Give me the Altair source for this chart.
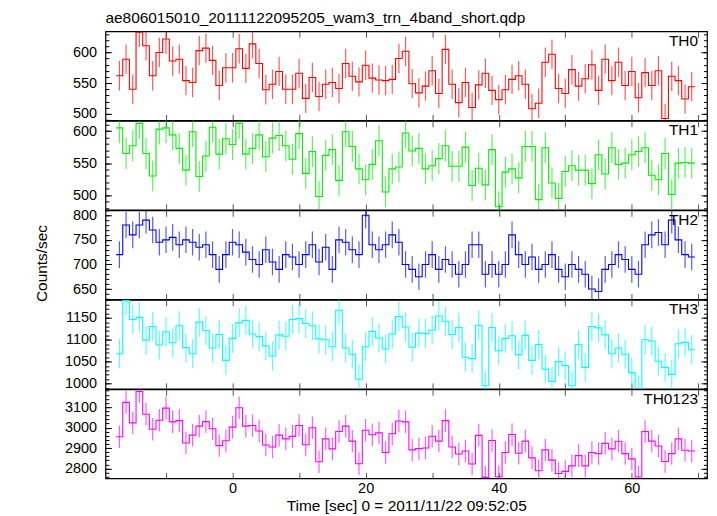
import altair as alt
import pandas as pd

plot_title = "ae806015010_20111122095205_wam3_trn_4band_short.qdp"
x_title = "Time [sec] 0 = 2011/11/22 09:52:05"
y_title = "Counts/sec"
names = ["TH0", "TH1", "TH2", "TH3", "TH0123"]
colors = ["#ff0000", "#00ee00", "#0000ff", "#00ffff", "#ff00ff"]

t_start = -17.5   # first bin start [sec]
bin_width = 1.0

th0 = [562, 589, 540, 633, 611, 562, 600, 622, 586, 589, 554, 551, 603, 607, 587, 546, 575, 575, 606, 574,
       614, 582, 539, 548, 569, 540, 540, 566, 525, 559, 528, 548, 551, 541, 582, 561, 552, 579, 558, 555,
       554, 556, 590, 602, 549, 534, 545, 570, 533, 605, 548, 518, 551, 510, 547, 566, 538, 523, 539, 556,
       562, 548, 508, 517, 584, 597, 541, 533, 572, 545, 557, 580, 538, 589, 554, 584, 546, 569, 526, 567,
       546, 570, 492, 561, 554, 524, 544]
th1 = [605, 565, 577, 612, 565, 530, 603, 605, 594, 573, 539, 599, 529, 561, 606, 564, 588, 579, 612, 564,
       573, 594, 560, 589, 593, 577, 556, 596, 534, 568, 498, 562, 571, 523, 599, 576, 541, 524, 548, 585,
       505, 541, 544, 597, 569, 573, 541, 546, 557, 577, 545, 545, 575, 515, 542, 516, 571, 482, 536, 541,
       527, 576, 576, 493, 574, 519, 495, 537, 546, 539, 539, 518, 563, 533, 574, 548, 550, 563, 568, 574,
       531, 524, 565, 501, 550, 551, 550]
th2 = [720, 780, 760, 780, 790, 770, 745, 750, 755, 740, 750, 745, 735, 740, 720, 690, 720, 745, 740, 725,
       710, 700, 730, 705, 690, 720, 715, 700, 720, 740, 705, 735, 690, 750, 745, 730, 720, 800, 740, 730,
       740, 760, 745, 700, 690, 675, 700, 720, 690, 710, 700, 680, 700, 740, 740, 680, 700, 680, 700, 760,
       720, 700, 715, 690, 700, 720, 690, 675, 700, 690, 680, 650, 645, 690, 700, 720, 710, 690, 680, 740,
       760, 765, 740, 790, 750, 720, 715]
th3 = [1068, 1189, 1146, 1151, 1099, 1130, 1088, 1118, 1093, 1132, 1082, 1068, 1140, 1121, 1081, 1112, 1053,
       1103, 1139, 1144, 1113, 1107, 1086, 1063, 1111, 1108, 1146, 1148, 1137, 1132, 1102, 1100, 1084, 1167,
       1081, 1067, 1010, 1084, 1119, 1104, 1079, 1113, 1153, 1129, 1083, 1115, 1114, 1122, 1154, 1142, 1112,
       1128, 1060, 1057, 1133, 995, 1128, 1075, 1103, 1109, 1066, 1110, 1053, 1089, 1033, 1005, 1050, 1041,
       995, 1089, 1037, 1130, 1127, 1111, 1068, 1081, 1067, 1025, 985, 1100, 1097, 1051, 1037, 1021, 1091,
       1094, 1077]
th0123 = [2955, 3123, 3023, 3176, 3065, 2992, 3036, 3095, 3028, 3034, 2925, 2963, 3007, 3029, 2994, 2912,
          2936, 3002, 3097, 3007, 3010, 2983, 2915, 2905, 2963, 2945, 2957, 3010, 2916, 2999, 2833, 2945,
          2896, 2981, 3007, 2934, 2823, 2987, 2965, 2974, 2878, 2970, 3032, 3028, 2891, 2897, 2900, 2958,
          2934, 3034, 2905, 2871, 2886, 2822, 2962, 2757, 2937, 2760, 2878, 2966, 2875, 2934, 2852, 2789,
          2891, 2841, 2776, 2786, 2813, 2863, 2813, 2878, 2873, 2923, 2896, 2933, 2873, 2847, 2759, 2981,
          2934, 2910, 2834, 2873, 2945, 2889, 2886]
series = [th0, th1, th2, th3, th0123]
errs = [24, 24, 27, 33, 55]

y_domains = [[489, 634.5], [477, 616], [629, 810], [988, 1191], [2752, 3187]]
y_major = [[500, 550, 600], [500, 550, 600], [650, 700, 750, 800],
           [1000, 1050, 1100, 1150], [2800, 2900, 3000, 3100]]
y_minor_step = [10, 10, 10, 10, 20]
x_domain = [-19.1, 71.3]
x_ticks = [-10, 0, 10, 20, 30, 40, 50, 60, 70]

W, H = 605, 89.6
FONT = "Liberation Sans"


def panel(k):
    vals = series[k]
    n = len(vals)
    last = (k == len(series) - 1)
    edges = [t_start + i * bin_width for i in range(n + 1)]
    step_df = pd.DataFrame({"t": edges, "v": list(vals) + [vals[-1]]})
    centers = [t_start + (i + 0.5) * bin_width for i in range(n)]
    err_df = pd.DataFrame({"t": centers, "v": vals,
                           "lo": [v - errs[k] for v in vals],
                           "hi": [v + errs[k] for v in vals]})
    lo, hi = y_domains[k]
    st = y_minor_step[k]
    minor = [v for v in range(int(lo // st) * st, int(hi) + 1, st) if lo <= v <= hi]

    xs = alt.Scale(domain=x_domain, nice=False, zero=False)
    ys = alt.Scale(domain=y_domains[k], nice=False, zero=False)

    xb_kw = dict(orient="bottom", values=x_ticks, tickSize=6, offset=-6, domain=False, grid=False,
                 tickColor="#555555", labels=last, labelFontSize=14.5, labelFont=FONT,
                 labelColor="black", labelPadding=3, labelOverlap=False,
                 labelExpr="datum.value % 20 == 0 ? datum.label : ''")
    if last:
        xb_kw.update(title=x_title, titleFontSize=15.5, titleFont=FONT, titleFontWeight="normal",
                     titleColor="black", titlePadding=4)
    else:
        xb_kw.update(title=None)
    x_bottom = alt.Axis(**xb_kw)
    x_top = alt.Axis(orient="top", values=x_ticks, tickSize=6, offset=-6, domain=False, grid=False,
                     tickColor="#555555", labels=False, title=None)

    yl_kw = dict(orient="left", values=y_major[k], tickSize=6, offset=-6, domain=False, grid=False,
                 tickColor="black", labelFontSize=14.5, labelFont=FONT, labelColor="black",
                 labelPadding=9, format="d", labelOverlap=False)
    if k == 2:
        yl_kw.update(title=y_title, titleFontSize=15.5, titleFont=FONT, titleFontWeight="normal",
                     titleColor="black", titleAngle=270, titleBaseline="alphabetic",
                     titleAlign="center", titleX=-65, titleY=53)
    else:
        yl_kw.update(title=None)
    y_left = alt.Axis(**yl_kw)
    y_left_minor = alt.Axis(orient="left", values=minor, tickSize=3.5, offset=-3.5, domain=False,
                            grid=False, labels=False, tickColor="black", title=None)
    y_right = alt.Axis(orient="right", values=y_major[k], tickSize=6, offset=-6, domain=False,
                       grid=False, labels=False, tickColor="black", title=None)
    y_right_minor = alt.Axis(orient="right", values=minor, tickSize=3.5, offset=-3.5, domain=False,
                             grid=False, labels=False, tickColor="black", title=None)

    step = alt.Chart(step_df).mark_line(interpolate="step-after", color=colors[k],
                                        strokeWidth=1.1, clip=True).encode(
        x=alt.X("t:Q", scale=xs, axis=x_bottom),
        y=alt.Y("v:Q", scale=ys, axis=y_left))
    err = alt.Chart(err_df).mark_rule(color=colors[k], strokeWidth=1.2, opacity=0.65,
                                      clip=True).encode(
        x=alt.X("t:Q", scale=xs, axis=x_top),
        y=alt.Y("lo:Q", scale=ys, axis=y_left_minor),
        y2="hi:Q")
    ghost1 = alt.Chart(err_df).mark_point(opacity=0, size=0).encode(
        x=alt.X("t:Q", scale=xs, axis=None),
        y=alt.Y("v:Q", scale=ys, axis=y_right))
    ghost2 = alt.Chart(err_df).mark_point(opacity=0, size=0).encode(
        x=alt.X("t:Q", scale=xs, axis=None),
        y=alt.Y("v:Q", scale=ys, axis=y_right_minor))
    label = alt.Chart(pd.DataFrame({"name": [names[k]]})).mark_text(
        align="right", baseline="alphabetic", fontSize=15.5, font=FONT, color="black").encode(
        x=alt.value(W - 9), y=alt.value(14.7), text="name:N")
    layers = [err, step, ghost1, ghost2, label]
    if k == 0:
        head = alt.Chart(pd.DataFrame({"name": [plot_title]})).mark_text(
            align="left", baseline="alphabetic", fontSize=15.5, font=FONT, color="black").encode(
            x=alt.value(0), y=alt.value(-8.7), text="name:N")
        layers.append(head)
    return alt.layer(*layers).resolve_axis(
        x="independent", y="independent").properties(width=W, height=H)


chart = alt.vconcat(*[panel(k) for k in range(len(series))], spacing=0, bounds="flush").properties(
    padding={"left": 26, "top": 0, "right": 0, "bottom": 0}
).configure(background="white").configure_view(stroke="#000000", strokeWidth=1.2, strokeOpacity=1)

chart.save("out.html", embed_options={"renderer": "svg", "actions": False})
